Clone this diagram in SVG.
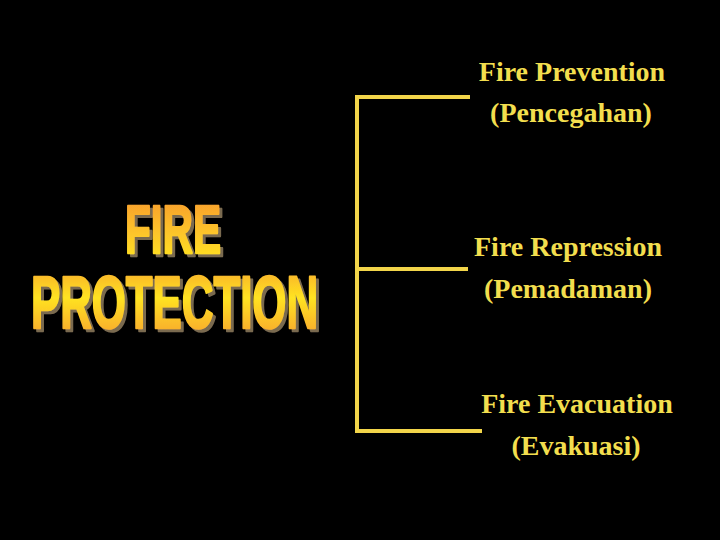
<svg xmlns="http://www.w3.org/2000/svg" width="720" height="540" viewBox="0 0 720 540">
  <defs>
    <linearGradient id="gFire" x1="0" y1="0" x2="0" y2="1">
      <stop offset="0" stop-color="#F7952E"/>
      <stop offset="0.55" stop-color="#FDC52A"/>
      <stop offset="1" stop-color="#FFEA1E"/>
    </linearGradient>
    <linearGradient id="gProt" x1="0" y1="0" x2="0" y2="1">
      <stop offset="0" stop-color="#F7A030"/>
      <stop offset="0.45" stop-color="#FFE320"/>
      <stop offset="1" stop-color="#F79B32"/>
    </linearGradient>
    <filter id="shadow" x="-5%" y="-10%" width="115%" height="130%">
      <feOffset in="SourceAlpha" dx="3" dy="3" result="off"/>
      <feFlood flood-color="#7A6A50"/>
      <feComposite in2="off" operator="in" result="sh"/>
      <feMerge>
        <feMergeNode in="sh"/>
        <feMergeNode in="SourceGraphic"/>
      </feMerge>
    </filter>
    <style>
      .title { font-family: "Liberation Sans", "DejaVu Sans", sans-serif; font-weight: bold; stroke-width: 2.5; stroke-linejoin: round; filter: url(#shadow); }
      .label { font-family: "Liberation Serif", "Times New Roman", serif; font-weight: bold; font-size: 28px; fill: #F2DE4E; text-anchor: middle; }
      .conn { stroke: #F2D54A; stroke-width: 4; fill: none; }
    </style>
  </defs>
  <rect x="0" y="0" width="720" height="540" fill="#000000"/>

  <g id="title">
    <text class="title" x="125" y="253" font-size="69" textLength="96" lengthAdjust="spacingAndGlyphs" fill="url(#gFire)" stroke="url(#gFire)">FIRE</text>
    <text class="title" x="31" y="328" font-size="75" textLength="287" lengthAdjust="spacingAndGlyphs" fill="url(#gProt)" stroke="url(#gProt)">PROTECTION</text>
  </g>

  <g id="connectors">
    <polyline class="conn" points="470,97 357,97 357,431 482,431"/>
    <line class="conn" x1="359" y1="269" x2="468" y2="269"/>
  </g>

  <g id="node-prevention">
    <text class="label" x="572" y="81">Fire Prevention</text>
    <text class="label" x="571" y="122">(Pencegahan)</text>
  </g>
  <g id="node-repression">
    <text class="label" x="568" y="256">Fire Repression</text>
    <text class="label" x="568" y="298">(Pemadaman)</text>
  </g>
  <g id="node-evacuation">
    <text class="label" x="577" y="413">Fire Evacuation</text>
    <text class="label" x="576" y="455">(Evakuasi)</text>
  </g>
</svg>
